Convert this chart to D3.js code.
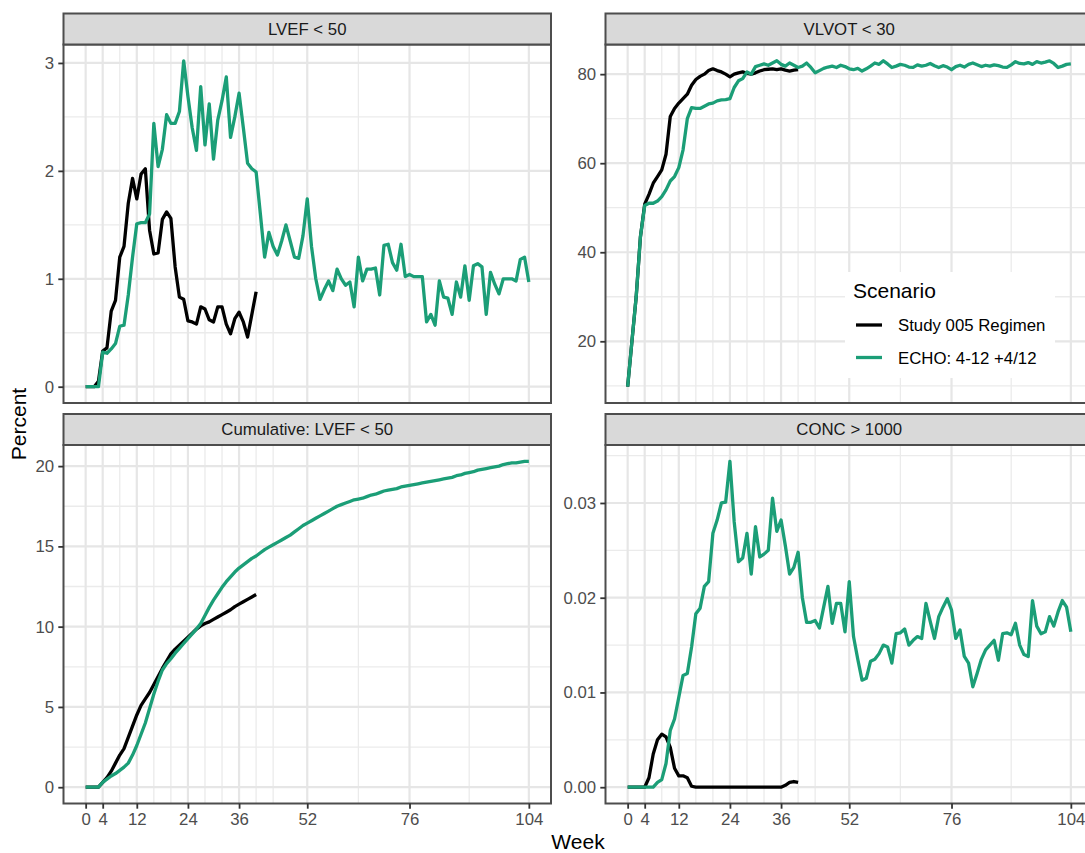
<!DOCTYPE html>
<html>
<head>
<meta charset="utf-8">
<script src="https://cdn.jsdelivr.net/npm/d3@7"></script>
<style>
  body { margin: 0; background: #ffffff; }
  svg text { font-family: "Liberation Sans", Arial, sans-serif; }
</style>
</head>
<body>
<script>
'use strict';

// x axis breaks (weeks) and the extra grid lines between them
const weekBreaks = [0, 4, 12, 24, 36, 52, 76, 104];
const weekMinor = [8, 16, 20, 28, 32, 40, 44, 64, 90];

const scenarios = ["Study 005 Regimen", "ECHO: 4-12 +4/12"];
const scenarioColors = ["#000000", "#1B9E77"];

const panelTitles = ["LVEF < 50", "VLVOT < 30", "Cumulative: LVEF < 50", "CONC > 1000"];

// y ticks per panel
const yTicksLvef = [0, 1, 2, 3];
const yTicksVlvot = [20, 40, 60, 80];
const yTicksCum = [0, 5, 10, 15, 20];
const yTicksConc = [0, 0.01, 0.02, 0.03];

// weekly percent values, index = week
const lvefStudy = [0, 0, 0, 0.05, 0.33, 0.36, 0.70, 0.80, 1.20, 1.30,
  1.70, 1.93, 1.74, 1.97, 2.02, 1.45, 1.23, 1.24, 1.55, 1.62,
  1.56, 1.11, 0.83, 0.81, 0.61, 0.60, 0.58, 0.74, 0.72, 0.62,
  0.60, 0.74, 0.74, 0.58, 0.49, 0.63, 0.69, 0.60, 0.46, 0.67,
  0.88];
const lvefEcho = [0, 0, 0, 0, 0.32, 0.31, 0.35, 0.40, 0.56, 0.57,
  0.85, 1.20, 1.51, 1.52, 1.52, 1.60, 2.44, 2.04, 2.20, 2.52,
  2.44, 2.44, 2.55, 3.02, 2.69, 2.40, 2.19, 2.78, 2.24, 2.62,
  2.11, 2.47, 2.65, 2.87, 2.31, 2.50, 2.72, 2.40, 2.07, 2.02,
  1.99, 1.60, 1.20, 1.43, 1.30, 1.22, 1.35, 1.50, 1.35, 1.20,
  1.19, 1.40, 1.74, 1.30, 1.00, 0.81, 0.90, 0.98, 0.89, 1.09,
  1.00, 0.94, 0.97, 0.74, 1.20, 0.98, 1.09, 1.09, 1.10, 0.85,
  1.31, 1.32, 1.15, 1.08, 1.32, 1.02, 1.04, 1.02, 1.02, 1.02,
  0.60, 0.67, 0.57, 0.98, 0.83, 0.82, 0.67, 0.97, 0.83, 1.12,
  0.80, 1.12, 1.14, 1.11, 0.67, 1.06, 0.95, 0.86, 1.00, 1.00,
  1.00, 0.98, 1.18, 1.20, 0.97];

const vlvotStudy = [9.8, 20, 30, 43.5, 50.8, 53, 55.5, 57, 58.5, 62,
  70.5, 72.3, 73.5, 74.5, 75.5, 77.5, 78.8, 79.5, 80, 80.8,
  81.2, 80.8, 80.5, 80, 79.4, 80, 80.3, 80.5, 80.2, 80,
  80.3, 80.7, 81, 81.1, 81.2, 81, 81.2, 80.9, 80.7, 80.9,
  81];
const vlvotEcho = [9.8, 20, 30, 43.5, 50.5, 51, 51, 51.5, 52.5, 54,
  56, 57, 59, 63, 70, 72.5, 72.3, 72.3, 72.8, 73.3,
  73.5, 74, 74.2, 74.3, 74.5, 77, 78.5, 79, 80.5, 80,
  81.7, 82, 82.3, 82, 82.5, 83, 82.2, 81.8, 82.5, 82,
  81.5, 81.8, 82.5, 81.5, 80.3, 80.8, 81.3, 81.6, 81.8, 81.5,
  82, 81.7, 81.2, 81, 81.3, 80.7, 81.2, 81.8, 82.5, 82.2,
  83, 82.3, 81.5, 81.8, 82.2, 82, 81.6, 81.5, 82.1, 81.8,
  82, 82.4, 81.9, 81.5, 81.9, 81.6, 81, 81.7, 82, 81.6,
  82.2, 82.5, 82.1, 81.7, 82, 81.8, 82.1, 81.9, 81.6, 81.5,
  82.1, 82.8, 82.4, 82.3, 82.6, 82.2, 82.8, 82.5, 82.7, 83,
  82.4, 81.5, 81.8, 82.2, 82.3];

const cumLvefStudy = [0, 0, 0, 0, 0.3, 0.6, 1.0, 1.5, 2.0, 2.4,
  3.1, 3.8, 4.5, 5.1, 5.5, 5.9, 6.4, 6.9, 7.4, 7.85,
  8.3, 8.6, 8.85, 9.1, 9.35, 9.6, 9.85, 10.05, 10.2, 10.3,
  10.45, 10.6, 10.75, 10.9, 11.05, 11.25, 11.4, 11.55, 11.7, 11.85,
  12.0];
const cumLvefEcho = [0, 0, 0, 0, 0.3, 0.5, 0.7, 0.85, 1.05, 1.25,
  1.5, 2.0, 2.6, 3.3, 4.0, 4.9, 5.8, 6.6, 7.3, 7.7,
  8.0, 8.35, 8.65, 8.95, 9.25, 9.55, 9.85, 10.2, 10.7, 11.2,
  11.65, 12.05, 12.45, 12.8, 13.1, 13.4, 13.65, 13.85, 14.05, 14.25,
  14.4, 14.6, 14.8, 14.95, 15.1, 15.25, 15.4, 15.55, 15.7, 15.9,
  16.1, 16.3, 16.45, 16.6, 16.75, 16.9, 17.05, 17.2, 17.35, 17.5,
  17.6, 17.7, 17.8, 17.9, 17.95, 18.0, 18.1, 18.2, 18.25, 18.35,
  18.45, 18.5, 18.55, 18.6, 18.7, 18.75, 18.8, 18.85, 18.9, 18.95,
  19.0, 19.05, 19.1, 19.15, 19.2, 19.25, 19.3, 19.4, 19.45, 19.55,
  19.6, 19.65, 19.75, 19.8, 19.85, 19.9, 19.95, 20.0, 20.1, 20.15,
  20.2, 20.2, 20.25, 20.3, 20.3];

const concStudy = [0, 0, 0, 0, 0, 0.0010, 0.0035, 0.0050, 0.0056, 0.0053,
  0.0042, 0.0020, 0.0012, 0.0012, 0.0010, 0.0001, 0, 0, 0, 0,
  0, 0, 0, 0, 0, 0, 0, 0, 0, 0,
  0, 0, 0, 0, 0, 0, 0, 0.0002, 0.0005, 0.0006,
  0.0005];
const concEcho = [0, 0, 0, 0, 0, 0, 0, 0.0005, 0.0008, 0.0025,
  0.0060, 0.0072, 0.0095, 0.0118, 0.0120, 0.0148, 0.0183, 0.0189, 0.0212, 0.0217,
  0.0268, 0.0282, 0.0300, 0.0301, 0.0344, 0.0280, 0.0238, 0.0242, 0.0268, 0.0225,
  0.0275, 0.0243, 0.0246, 0.0250, 0.0305, 0.0270, 0.0282, 0.0255, 0.0225, 0.0232,
  0.0248, 0.0200, 0.0174, 0.0174, 0.0176, 0.0168, 0.0190, 0.0212, 0.0173, 0.0194,
  0.0194, 0.0164, 0.0217, 0.0159, 0.0135, 0.0113, 0.0115, 0.0133, 0.0135, 0.0141,
  0.0150, 0.0148, 0.0131, 0.0162, 0.0163, 0.0167, 0.0150, 0.0155, 0.0159, 0.0157,
  0.0194, 0.0175, 0.0157, 0.0180, 0.0190, 0.0199, 0.0187, 0.0157, 0.0166, 0.0138,
  0.0131, 0.0106, 0.0120, 0.0135, 0.0145, 0.0150, 0.0155, 0.0134, 0.0162, 0.0163,
  0.0161, 0.0173, 0.0150, 0.0140, 0.0138, 0.0197, 0.0170, 0.0162, 0.0164, 0.0180,
  0.0170, 0.0185, 0.0197, 0.0190, 0.0164];

(function() {

  let svgContainer = ""; // keep SVG reference in outer scope

  // panel geometry (ggplot facet_wrap look, 2 x 2)
  const panelW = 487.5;
  const stripH = 31;
  const plotH = 358.5;
  const tickLen = 5.2;
  const tickPad = 4.2;
  const axisFont = 16.8;

  window.onload = function() {
    svgContainer = d3.select('body')
      .append('svg')
      .attr('width', 1085)
      .attr('height', 853);

    let panels = [
      { left: 63.5, top: 13.5, title: panelTitles[0], series: [lvefStudy, lvefEcho],
        ticks: yTicksLvef, fmt: d3.format('d'), xAxis: false },
      { left: 605.5, top: 13.5, title: panelTitles[1], series: [vlvotStudy, vlvotEcho],
        ticks: yTicksVlvot, fmt: d3.format('d'), xAxis: false },
      { left: 63.5, top: 414, title: panelTitles[2], series: [cumLvefStudy, cumLvefEcho],
        ticks: yTicksCum, fmt: d3.format('d'), xAxis: true },
      { left: 605.5, top: 414, title: panelTitles[3], series: [concStudy, concEcho],
        ticks: yTicksConc, fmt: d3.format('.2f'), xAxis: true }
    ];

    panels.forEach((p) => drawPanel(p));
    drawLegend();
    drawAxisTitles();
  }

  // one facet: grid, lines, border, strip and axes
  function drawPanel(p) {
    let plotTop = p.top + stripH;
    let plotBottom = plotTop + plotH;
    let plotRight = p.left + panelW;

    // x scale with ggplot's 5% expansion
    let xScale = d3.scaleLinear()
      .domain([-5.2, 109.2])
      .range([p.left, plotRight]);

    // free y scale, expanded 5% on each side
    let ext = d3.extent(d3.merge(p.series));
    let pad = (ext[1] - ext[0]) * 0.05;
    let yScale = d3.scaleLinear()
      .domain([ext[0] - pad, ext[1] + pad])
      .range([plotBottom, plotTop]);

    let g = svgContainer.append('g');

    g.append('rect')
      .attr('x', p.left).attr('y', plotTop)
      .attr('width', panelW).attr('height', plotH)
      .attr('fill', '#ffffff');

    // minor y grid at midpoints of the breaks
    let step = p.ticks[1] - p.ticks[0];
    let yMinor = p.ticks.map((t) => t - step / 2)
      .concat([p.ticks[p.ticks.length - 1] + step / 2])
      .filter((v) => v > yScale.domain()[0] && v < yScale.domain()[1]);

    g.selectAll('.yminor')
      .data(yMinor)
      .enter()
      .append('line')
        .attr('x1', p.left).attr('x2', plotRight)
        .attr('y1', (d) => yScale(d)).attr('y2', (d) => yScale(d))
        .attr('stroke', '#ebebeb').attr('stroke-width', 1.3);

    g.selectAll('.xminor')
      .data(weekMinor)
      .enter()
      .append('line')
        .attr('x1', (d) => xScale(d)).attr('x2', (d) => xScale(d))
        .attr('y1', plotTop).attr('y2', plotBottom)
        .attr('stroke', '#ebebeb').attr('stroke-width', 1.3);

    g.selectAll('.ymajor')
      .data(p.ticks)
      .enter()
      .append('line')
        .attr('x1', p.left).attr('x2', plotRight)
        .attr('y1', (d) => yScale(d)).attr('y2', (d) => yScale(d))
        .attr('stroke', '#e6e6e6').attr('stroke-width', 2.2);

    g.selectAll('.xmajor')
      .data(weekBreaks)
      .enter()
      .append('line')
        .attr('x1', (d) => xScale(d)).attr('x2', (d) => xScale(d))
        .attr('y1', plotTop).attr('y2', plotBottom)
        .attr('stroke', '#e6e6e6').attr('stroke-width', 2.2);

    // scenario lines, black first so green sits on top
    let line = d3.line()
      .x((d, i) => xScale(i))
      .y((d) => yScale(d));

    p.series.forEach((s, i) => {
      g.append('path')
        .datum(s)
        .attr('d', line)
        .attr('fill', 'none')
        .attr('stroke', scenarioColors[i])
        .attr('stroke-width', 3.3)
        .attr('stroke-linejoin', 'round')
        .attr('stroke-linecap', 'butt');
    });

    // panel border
    g.append('rect')
      .attr('x', p.left).attr('y', plotTop)
      .attr('width', panelW).attr('height', plotH)
      .attr('fill', 'none')
      .attr('stroke', '#4d4d4d')
      .attr('stroke-width', 2);

    // strip
    g.append('rect')
      .attr('x', p.left).attr('y', p.top)
      .attr('width', panelW).attr('height', stripH)
      .attr('fill', '#d9d9d9')
      .attr('stroke', '#4d4d4d')
      .attr('stroke-width', 2);

    g.append('text')
      .attr('x', p.left + panelW / 2)
      .attr('y', p.top + stripH / 2)
      .attr('dy', '0.35em')
      .attr('text-anchor', 'middle')
      .attr('fill', '#1a1a1a')
      .style('font-size', axisFont + 'px')
      .text(p.title);

    // y axis
    let yAxis = d3.axisLeft(yScale)
      .tickValues(p.ticks)
      .tickFormat(p.fmt)
      .tickSize(tickLen)
      .tickPadding(tickPad);
    let yg = g.append('g')
      .attr('transform', 'translate(' + p.left + ', 0)')
      .call(yAxis);
    styleAxis(yg);

    // x axis only on the bottom row
    if (p.xAxis) {
      let xAxis = d3.axisBottom(xScale)
        .tickValues(weekBreaks)
        .tickFormat(d3.format('d'))
        .tickSize(tickLen)
        .tickPadding(tickPad);
      let xg = g.append('g')
        .attr('transform', 'translate(0, ' + plotBottom + ')')
        .call(xAxis);
      styleAxis(xg);
    }
  }

  // ggplot theme_bw axis look
  function styleAxis(ag) {
    ag.attr('font-family', null).attr('font-size', null);
    ag.select('.domain').remove();
    ag.selectAll('line')
      .attr('stroke', '#333333')
      .attr('stroke-width', 1.8);
    ag.selectAll('text')
      .attr('fill', '#4d4d4d')
      .style('font-size', axisFont + 'px');
  }

  // legend sits inside the VLVOT panel
  function drawLegend() {
    let lg = svgContainer.append('g');

    lg.append('rect')
      .attr('x', 845).attr('y', 272)
      .attr('width', 210).attr('height', 106)
      .attr('fill', '#ffffff');

    lg.append('text')
      .attr('x', 853).attr('y', 298)
      .attr('fill', '#000000')
      .style('font-size', '21px')
      .text('Scenario');

    scenarios.forEach((name, i) => {
      let cy = 325 + i * 32.5;
      lg.append('line')
        .attr('x1', 856).attr('x2', 882)
        .attr('y1', cy).attr('y2', cy)
        .attr('stroke', scenarioColors[i])
        .attr('stroke-width', 3.3);
      lg.append('text')
        .attr('x', 898).attr('y', cy)
        .attr('dy', '0.36em')
        .attr('fill', '#000000')
        .style('font-size', axisFont + 'px')
        .text(name);
    });
  }

  function drawAxisTitles() {
    svgContainer.append('text')
      .attr('x', 578).attr('y', 849)
      .attr('text-anchor', 'middle')
      .attr('fill', '#000000')
      .style('font-size', '21px')
      .text('Week');

    svgContainer.append('text')
      .attr('transform', 'translate(25.5, 424) rotate(-90)')
      .attr('text-anchor', 'middle')
      .attr('fill', '#000000')
      .style('font-size', '21px')
      .text('Percent');
  }

})();
</script>
</body>
</html>
